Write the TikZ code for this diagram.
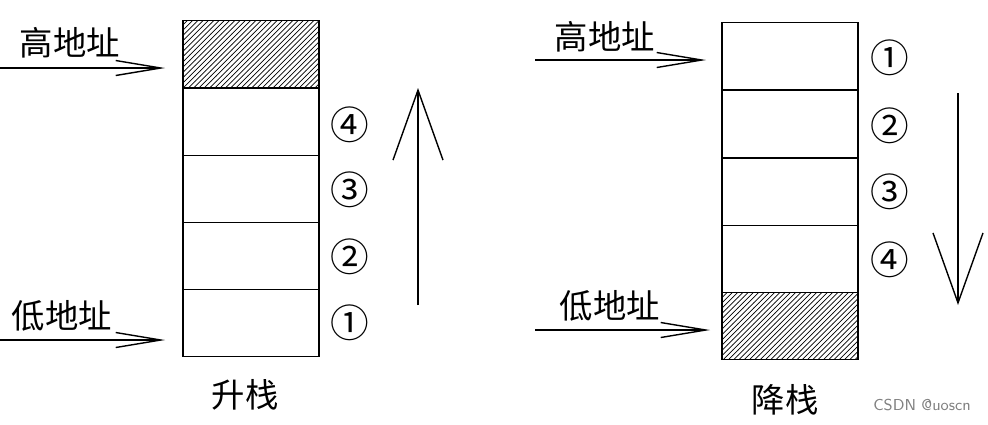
\documentclass[tikz,border=0pt]{standalone}
\usepackage{fontspec}
\newfontfamily\cjk{Noto Sans CJK SC}
\usetikzlibrary{arrows.meta,patterns}
\tikzset{
    cell/.style={draw, thick, minimum width=2.72cm, minimum height=1.35cm, inner sep=0pt},
    hatch/.style={cell, pattern=north east lines},
    num/.style={font=\cjk\fontsize{22}{22}\selectfont},
    lbl/.style={font=\cjk\fontsize{19}{19}\selectfont},
    arr/.style={-{Straight Barb[length=9mm,width=3mm]}, thick},
    bigarr/.style={-{Straight Barb[length=14mm,width=10mm]}, thick},
}
\begin{document}
\begin{tikzpicture}[x=0.02cm,y=-0.02cm]
    \useasboundingbox (0,0) rectangle (988,424);

    % Left stack (ascending)
    \node[hatch] (l5) at (251,54) {};
    \node[cell] (l4) at (251,122) {};
    \node[cell] (l3) at (251,189) {};
    \node[cell] (l2) at (251,256) {};
    \node[cell] (l1) at (251,323) {};
    \node[num] (ln4) at (350,125) {④};
    \node[num] (ln3) at (350,190) {③};
    \node[num] (ln2) at (350,257) {②};
    \node[num] (ln1) at (350,323) {①};
    \coordinate (lupa) at (418,305);
    \coordinate (lupb) at (418,88);
    \draw[bigarr] (lupa) -- (lupb);

    \node[lbl] (lhigh) at (70,43) {高地址};
    \coordinate (lha) at (0,68);
    \coordinate (lhb) at (165,68);
    \draw[arr] (lha) -- (lhb);
    \node[lbl] (llow) at (62,316) {低地址};
    \coordinate (lla) at (0,340);
    \coordinate (llb) at (165,340);
    \draw[arr] (lla) -- (llb);
    \node[lbl] (lname) at (245,395) {升栈};

    % Right stack (descending)
    \node[cell] (r1) at (790,56) {};
    \node[cell] (r2) at (790,124) {};
    \node[cell] (r3) at (790,192) {};
    \node[cell] (r4) at (790,259) {};
    \node[hatch] (r5) at (790,326) {};
    \node[num] (rn1) at (890,58) {①};
    \node[num] (rn2) at (890,126) {②};
    \node[num] (rn3) at (890,192) {③};
    \node[num] (rn4) at (890,260) {④};
    \coordinate (rdna) at (958,93);
    \coordinate (rdnb) at (958,305);
    \draw[bigarr] (rdna) -- (rdnb);

    \node[lbl] (rhigh) at (605,37) {高地址};
    \coordinate (rha) at (535,60);
    \coordinate (rhb) at (706,60);
    \draw[arr] (rha) -- (rhb);
    \node[lbl] (rlow) at (610,306) {低地址};
    \coordinate (rla) at (535,330);
    \coordinate (rlb) at (710,330);
    \draw[arr] (rla) -- (rlb);
    \node[lbl] (rname) at (785,400) {降栈};

    \node[font=\sffamily\small, text=gray] (mark) at (922,405) {CSDN @uoscn};
\end{tikzpicture}
\end{document}
